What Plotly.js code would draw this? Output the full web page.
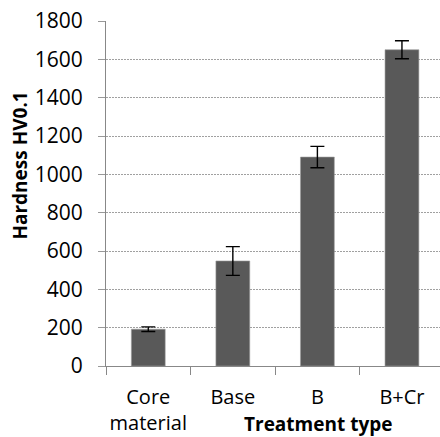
<!DOCTYPE html>
<html>
<head>
<meta charset="utf-8">
<script src="https://cdn.plot.ly/plotly-3.0.1.min.js"></script>
<style>
  html, body { margin: 0; padding: 0; background: #fff; overflow: hidden; }
  #chart { width: 440px; height: 437px; }
</style>
</head>
<body>
<div id="chart"></div>
<script>
// Vickers hardness by surface treatment
const categories = ["Core<br>material", "Base", "B", "B+Cr"];
const hardness = [192, 548, 1090, 1650];
const hardnessError = [12, 75, 56, 47];
const yTicks = [0, 200, 400, 600, 800, 1000, 1200, 1400, 1600, 1800];

const FONT = "'Open Sans', 'Liberation Sans', Arial, sans-serif";

const trace = {
  type: "bar",
  x: categories,
  y: hardness,
  width: 0.4,
  marker: { color: "#595959", line: { color: "#9a9a9a", width: 0.6 } },
  error_y: {
    type: "data",
    array: hardnessError,
    visible: true,
    color: "#000",
    thickness: 1.4,
    width: 7
  },
  hoverinfo: "none"
};

const layout = {
  width: 440,
  height: 437,
  margin: { l: 106, r: 0, t: 21, b: 71 },
  paper_bgcolor: "#fff",
  plot_bgcolor: "#fff",
  showlegend: false,
  font: { family: FONT, size: 20, color: "#000" },
  xaxis: {
    type: "category",
    range: [-0.5, 3.45],
    tickson: "boundaries",
    tickangle: 0,
    ticks: "outside",
    ticklen: 8,
    tickcolor: "#888",
    tickwidth: 1,
    showline: true,
    linecolor: "#888",
    linewidth: 1,
    showgrid: false,
    zeroline: false,
    tickfont: { family: FONT, size: 20, color: "#000" },
    ticklabelstandoff: 13,
    fixedrange: true
  },
  yaxis: {
    range: [0, 1800],
    tickvals: yTicks,
    ticktext: yTicks.map(String),
    ticks: "outside",
    ticklen: 7,
    tickcolor: "#999",
    tickwidth: 1,
    showline: true,
    linecolor: "#888",
    linewidth: 1,
    showgrid: true,
    gridcolor: "#a0a0a0",
    gridwidth: 1,
    griddash: "2px,1px",
    zeroline: false,
    tickfont: { family: FONT, size: 21, color: "#000" },
    ticklabelstandoff: 11,
    fixedrange: true
  },
  annotations: [
    {
      text: "<b>Hardness HV0.1</b>",
      xref: "paper", yref: "paper",
      x: -0.2575, y: 0.581,
      xanchor: "center", yanchor: "middle",
      textangle: -90,
      showarrow: false,
      font: { family: FONT, size: 19, color: "#000" }
    },
    {
      text: "<b>Treatment type</b>",
      xref: "paper", yref: "paper",
      x: 0.635, y: -0.168,
      xanchor: "center", yanchor: "middle",
      showarrow: false,
      font: { family: FONT, size: 19, color: "#000" }
    }
  ]
};

Plotly.newPlot("chart", [trace], layout, { displayModeBar: false, staticPlot: true });
</script>
</body>
</html>
